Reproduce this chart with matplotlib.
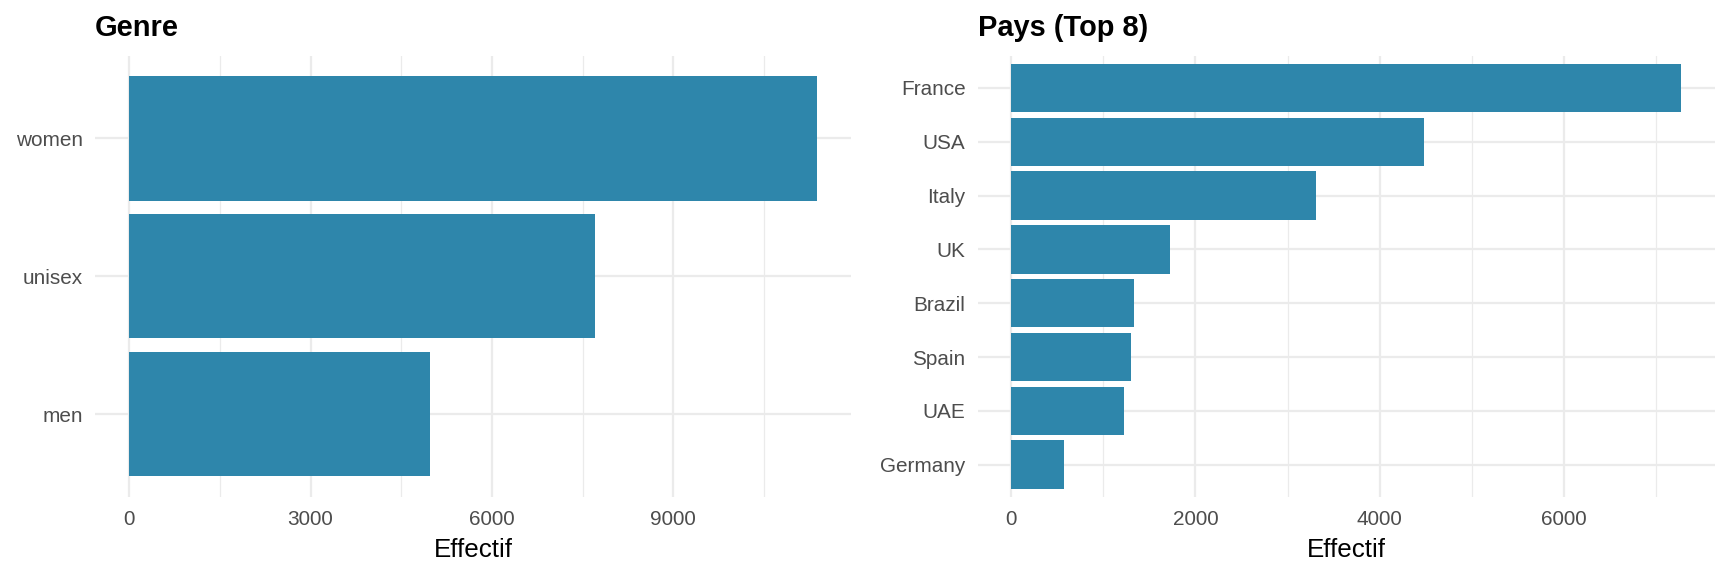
import matplotlib
matplotlib.use("Agg")
import matplotlib.pyplot as plt
from matplotlib.ticker import FixedLocator

plt.rcParams['font.family'] = ['Liberation Sans', 'DejaVu Sans']

# Data
genre_labels = ["men", "unisex", "women"]
genre_values = [4978, 7703, 11378]

pays_labels = ["Germany", "UAE", "Spain", "Brazil", "UK", "Italy", "USA", "France"]
pays_values = [573, 1225, 1303, 1333, 1721, 3305, 4475, 7266]

genre_major = [0, 3000, 6000, 9000]
genre_minor = [1500, 4500, 7500, 10500]
pays_major = [0, 2000, 4000, 6000]
pays_minor = [1000, 3000, 5000, 7000]

BAR = "#2E86AB"
GRID = "#EBEBEB"
TICK = "#4D4D4D"

W, H, DPI = 1728, 576, 144
fig = plt.figure(figsize=(W / DPI, H / DPI), dpi=DPI)

ax1 = fig.add_axes([94.8 / W, (576 - 497) / H, 756.5 / W, 441.3 / H])
ax2 = fig.add_axes([977.5 / W, (576 - 497) / H, 737.0 / W, 441.3 / H])


def draw(ax, labels, values, major, minor, title):
    pos = list(range(1, len(labels) + 1))
    ax.barh(pos, values, height=0.9, color=BAR, zorder=3)
    vmax = max(values)
    ax.set_xlim(-0.05 * vmax, 1.05 * vmax)
    ax.set_ylim(0.4, len(labels) + 0.6)
    ax.set_yticks(pos)
    ax.set_yticklabels(labels)
    ax.xaxis.set_major_locator(FixedLocator(major))
    ax.xaxis.set_minor_locator(FixedLocator(minor))
    ax.set_xticklabels([str(v) for v in major])
    ax.grid(True, which="major", axis="both", color=GRID, linewidth=1.1, zorder=0)
    ax.grid(True, which="minor", axis="x", color=GRID, linewidth=0.6, zorder=0)
    ax.set_axisbelow(True)
    for s in ax.spines.values():
        s.set_visible(False)
    ax.tick_params(axis="both", which="both", length=0, labelsize=10.4, labelcolor=TICK)
    ax.tick_params(axis="y", pad=6)
    ax.tick_params(axis="x", pad=6.5)
    ax.set_xlabel("Effectif", fontsize=13, color="black", labelpad=4.5)
    ax.set_ylabel("")
    ax.set_title(title, loc="left", fontsize=14.5, fontweight="bold", pad=10)


draw(ax1, genre_labels, genre_values, genre_major, genre_minor, "Genre")
draw(ax2, pays_labels, pays_values, pays_major, pays_minor, "Pays (Top 8)")

fig.savefig("out.png", dpi=DPI, facecolor="white")
